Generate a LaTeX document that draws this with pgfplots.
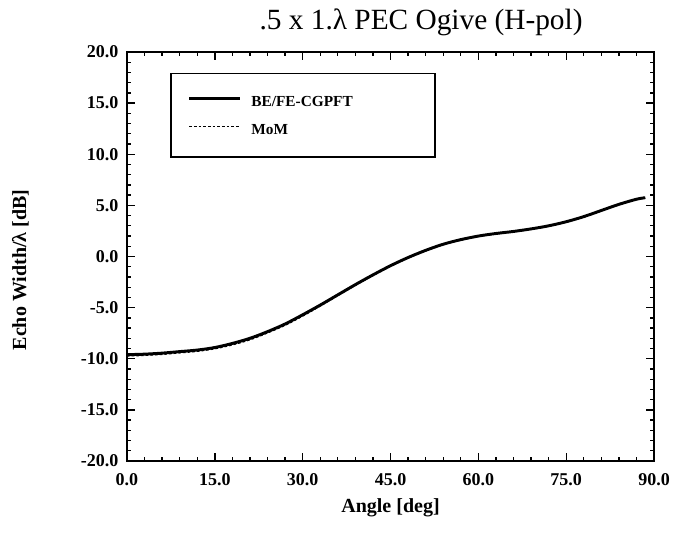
\documentclass[border=0pt]{standalone}
\usepackage{fontspec}
\setmainfont{Liberation Serif}
\usepackage{pgfplots}
\pgfplotsset{compat=1.18}
\begin{document}
\begin{tikzpicture}
\begin{axis}[
  at={(0,0)}, anchor=south west,
  width=395.25pt, height=306.75pt, scale only axis,
  xmin=0, xmax=90, ymin=-20, ymax=20,
  xtick={0,15,...,90}, ytick={-20,-15,...,20},
  minor x tick num=4, minor y tick num=4,
  tick align=inside, tick pos=both,
  major tick length=6pt, minor tick length=3pt,
  every tick/.style={black, line width=1pt},
  axis line style={line width=1.5pt},
  /pgf/number format/.cd, fixed, fixed zerofill, precision=1, assume math mode=true,
  /pgfplots/.cd,
  ticklabel style={font=\fontsize{13.5}{16}\selectfont\bfseries},
  xticklabel style={yshift=-6pt},
  yticklabel style={xshift=-3pt},
  title={.5 x 1.λ PEC Ogive (H-pol)},
  title style={font=\fontsize{22}{26}\selectfont, at={(axis description cs:0.558,1)}, anchor=base, yshift=11pt},
  xlabel={\textbf{Angle [deg]}},
  xlabel style={font=\fontsize{15}{18}\selectfont, at={(axis description cs:0.5,0)}, anchor=center, yshift=-35pt},
  ylabel={\textbf{Echo Width/λ [dB]}},
  ylabel style={font=\fontsize{15}{18}\selectfont, at={(axis description cs:0,0.467)}, anchor=center, rotate=0, yshift=80pt},
  legend style={at={(axis description cs:0.0816,0.949)}, anchor=north west, draw=black, line width=1.2pt,
    font=\fontsize{11.5}{13}\selectfont\bfseries, nodes={inner sep=0pt, text depth=0pt},
    row sep=13.5pt, column sep=7.5pt, inner xsep=12.75pt, inner ysep=17pt},
  legend cell align=left,
  legend image code/.code={\draw[#1] (0pt,0.5ex) -- (38pt,0.5ex);},
]
\addplot[black, line width=2.2pt, smooth] coordinates {
(0,-9.6) (3,-9.55) (6,-9.45) (9,-9.3) (12,-9.15) (15,-8.9) (18,-8.5) (21,-8.0)
(24,-7.35) (27,-6.6) (30,-5.7) (33,-4.75) (36,-3.75) (39,-2.75) (42,-1.8) (45,-0.9)
(48,-0.1) (51,0.6) (54,1.2) (57,1.65) (60,2.0) (63,2.25) (66,2.45) (69,2.7)
(72,3.0) (75,3.4) (78,3.9) (81,4.5) (84,5.1) (87,5.6) (88.5,5.75)
};
\addlegendentry{BE/FE-CGPFT\hspace*{49pt}}
\addplot[black, line width=1.3pt, dash pattern=on 2pt off 1.5pt, smooth] coordinates {
(0,-9.7) (3,-9.65) (6,-9.55) (9,-9.4) (12,-9.25) (15,-9.0) (18,-8.62) (21,-8.12)
(24,-7.45) (27,-6.7) (30,-5.8) (33,-4.82) (36,-3.8) (39,-2.8) (42,-1.83) (45,-0.92)
(48,-0.12) (51,0.58) (54,1.18) (57,1.63) (60,1.98) (63,2.23) (66,2.43) (69,2.68)
(72,2.98) (75,3.38) (78,3.88) (81,4.48) (84,5.08) (87,5.58) (88.5,5.73)
};
\addlegendentry{MoM}
\end{axis}
\pgfresetboundingbox
\path[use as bounding box] (-95.25pt,-58.5pt) rectangle (414.75pt,345.75pt);
\end{tikzpicture}
\end{document}
